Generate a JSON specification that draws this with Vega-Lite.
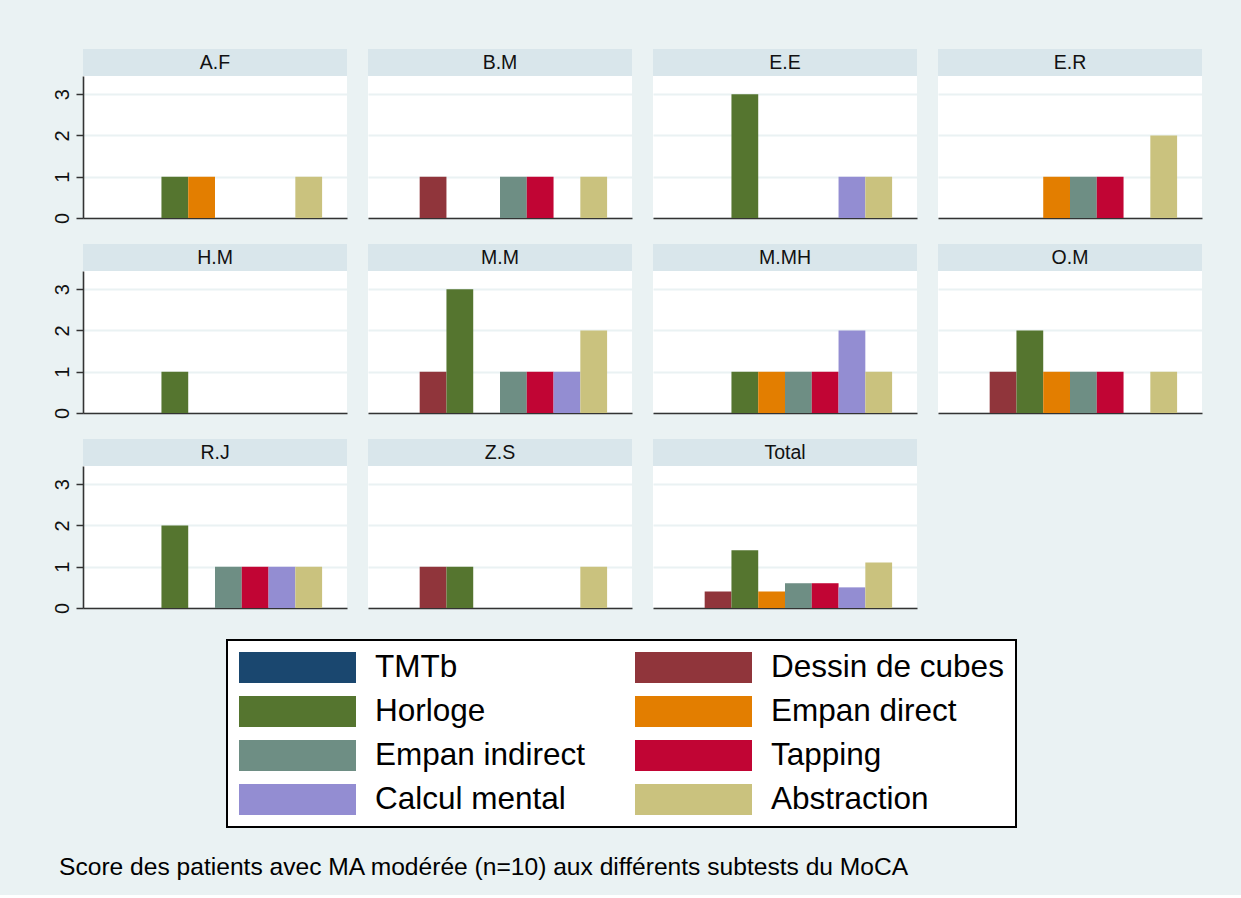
{
  "$schema": "https://vega.github.io/schema/vega-lite/v6.json",
  "background": "#EAF2F3",
  "padding": {"left": 52, "top": 49, "right": 39, "bottom": 15},
  "title": {"text": "Score des patients avec MA modérée (n=10) aux différents subtests du MoCA", "orient": "bottom", "anchor": "start", "font": "Liberation Sans", "fontSize": 24.6, "fontWeight": "normal", "color": "#000000", "offset": 28, "dx": 7},
  "datasets": {
    "scores": [
      {"patient": "A.F", "subtest": "Horloge", "score": 1},
      {"patient": "A.F", "subtest": "Empan direct", "score": 1},
      {"patient": "A.F", "subtest": "Abstraction", "score": 1},
      {"patient": "B.M", "subtest": "Dessin de cubes", "score": 1},
      {"patient": "B.M", "subtest": "Empan indirect", "score": 1},
      {"patient": "B.M", "subtest": "Tapping", "score": 1},
      {"patient": "B.M", "subtest": "Abstraction", "score": 1},
      {"patient": "E.E", "subtest": "Horloge", "score": 3},
      {"patient": "E.E", "subtest": "Calcul mental", "score": 1},
      {"patient": "E.E", "subtest": "Abstraction", "score": 1},
      {"patient": "E.R", "subtest": "Empan direct", "score": 1},
      {"patient": "E.R", "subtest": "Empan indirect", "score": 1},
      {"patient": "E.R", "subtest": "Tapping", "score": 1},
      {"patient": "E.R", "subtest": "Abstraction", "score": 2},
      {"patient": "H.M", "subtest": "Horloge", "score": 1},
      {"patient": "M.M", "subtest": "Dessin de cubes", "score": 1},
      {"patient": "M.M", "subtest": "Horloge", "score": 3},
      {"patient": "M.M", "subtest": "Empan indirect", "score": 1},
      {"patient": "M.M", "subtest": "Tapping", "score": 1},
      {"patient": "M.M", "subtest": "Calcul mental", "score": 1},
      {"patient": "M.M", "subtest": "Abstraction", "score": 2},
      {"patient": "M.MH", "subtest": "Horloge", "score": 1},
      {"patient": "M.MH", "subtest": "Empan direct", "score": 1},
      {"patient": "M.MH", "subtest": "Empan indirect", "score": 1},
      {"patient": "M.MH", "subtest": "Tapping", "score": 1},
      {"patient": "M.MH", "subtest": "Calcul mental", "score": 2},
      {"patient": "M.MH", "subtest": "Abstraction", "score": 1},
      {"patient": "O.M", "subtest": "Dessin de cubes", "score": 1},
      {"patient": "O.M", "subtest": "Horloge", "score": 2},
      {"patient": "O.M", "subtest": "Empan direct", "score": 1},
      {"patient": "O.M", "subtest": "Empan indirect", "score": 1},
      {"patient": "O.M", "subtest": "Tapping", "score": 1},
      {"patient": "O.M", "subtest": "Abstraction", "score": 1},
      {"patient": "R.J", "subtest": "Horloge", "score": 2},
      {"patient": "R.J", "subtest": "Empan indirect", "score": 1},
      {"patient": "R.J", "subtest": "Tapping", "score": 1},
      {"patient": "R.J", "subtest": "Calcul mental", "score": 1},
      {"patient": "R.J", "subtest": "Abstraction", "score": 1},
      {"patient": "Z.S", "subtest": "Dessin de cubes", "score": 1},
      {"patient": "Z.S", "subtest": "Horloge", "score": 1},
      {"patient": "Z.S", "subtest": "Abstraction", "score": 1},
      {"patient": "Total", "subtest": "Dessin de cubes", "score": 0.4},
      {"patient": "Total", "subtest": "Horloge", "score": 1.4},
      {"patient": "Total", "subtest": "Empan direct", "score": 0.4},
      {"patient": "Total", "subtest": "Empan indirect", "score": 0.6},
      {"patient": "Total", "subtest": "Tapping", "score": 0.6},
      {"patient": "Total", "subtest": "Calcul mental", "score": 0.5},
      {"patient": "Total", "subtest": "Abstraction", "score": 1.1}
    ]
  },
  "columns": 4,
  "spacing": {"row": 20, "column": 21},
  "align": "each",
  "concat": [
    {"bounds": "flush", "spacing": 0, "vconcat": [
      {"data": {"values": [{"patient": "A.F"}]}, "width": 264, "height": 27, "view": {"fill": "#D9E6EB", "stroke": null}, "mark": {"type": "text", "fontSize": 19.5, "font": "Liberation Sans", "color": "#111111"}, "encoding": {"text": {"field": "patient", "type": "nominal"}}},
      {"data": {"name": "scores"}, "transform": [{"filter": "datum.patient === 'A.F'"}], "width": 264, "height": 142, "mark": {"type": "bar"},
       "encoding": {
         "x": {"field": "subtest", "type": "nominal", "scale": {"domain": ["TMTb", "Dessin de cubes", "Horloge", "Empan direct", "Empan indirect", "Tapping", "Calcul mental", "Abstraction"], "paddingInner": 0, "paddingOuter": 0.93}, "axis": {"title": null}},
         "y": {"field": "score", "type": "quantitative", "scale": {"domain": [0, 3.44], "nice": false}, "axis": {"title": null, "values": [0, 1, 2, 3]}},
         "color": {"field": "subtest", "type": "nominal", "scale": {"domain": ["TMTb", "Dessin de cubes", "Horloge", "Empan direct", "Empan indirect", "Tapping", "Calcul mental", "Abstraction"], "range": ["#1A476F", "#90353B", "#55752F", "#E37E00", "#6E8E84", "#C10534", "#938DD2", "#CAC27E"]},
           "legend": {"title": null, "orient": "none", "legendX": 144, "legendY": 591, "columns": 2, "direction": "horizontal"}}
       }}
    ]},
    {"bounds": "flush", "spacing": 0, "vconcat": [
      {"data": {"values": [{"patient": "B.M"}]}, "width": 264, "height": 27, "view": {"fill": "#D9E6EB", "stroke": null}, "mark": {"type": "text", "fontSize": 19.5, "font": "Liberation Sans", "color": "#111111"}, "encoding": {"text": {"field": "patient", "type": "nominal"}}},
      {"data": {"name": "scores"}, "transform": [{"filter": "datum.patient === 'B.M'"}], "width": 264, "height": 142, "mark": {"type": "bar"},
       "encoding": {
         "x": {"field": "subtest", "type": "nominal", "scale": {"domain": ["TMTb", "Dessin de cubes", "Horloge", "Empan direct", "Empan indirect", "Tapping", "Calcul mental", "Abstraction"], "paddingInner": 0, "paddingOuter": 0.93}, "axis": {"title": null}},
         "y": {"field": "score", "type": "quantitative", "scale": {"domain": [0, 3.44], "nice": false}, "axis": {"title": null, "values": [0, 1, 2, 3], "labels": false, "ticks": false, "domain": false}},
         "color": {"field": "subtest", "type": "nominal"}
       }}
    ]},
    {"bounds": "flush", "spacing": 0, "vconcat": [
      {"data": {"values": [{"patient": "E.E"}]}, "width": 264, "height": 27, "view": {"fill": "#D9E6EB", "stroke": null}, "mark": {"type": "text", "fontSize": 19.5, "font": "Liberation Sans", "color": "#111111"}, "encoding": {"text": {"field": "patient", "type": "nominal"}}},
      {"data": {"name": "scores"}, "transform": [{"filter": "datum.patient === 'E.E'"}], "width": 264, "height": 142, "mark": {"type": "bar"},
       "encoding": {
         "x": {"field": "subtest", "type": "nominal", "scale": {"domain": ["TMTb", "Dessin de cubes", "Horloge", "Empan direct", "Empan indirect", "Tapping", "Calcul mental", "Abstraction"], "paddingInner": 0, "paddingOuter": 0.93}, "axis": {"title": null}},
         "y": {"field": "score", "type": "quantitative", "scale": {"domain": [0, 3.44], "nice": false}, "axis": {"title": null, "values": [0, 1, 2, 3], "labels": false, "ticks": false, "domain": false}},
         "color": {"field": "subtest", "type": "nominal"}
       }}
    ]},
    {"bounds": "flush", "spacing": 0, "vconcat": [
      {"data": {"values": [{"patient": "E.R"}]}, "width": 264, "height": 27, "view": {"fill": "#D9E6EB", "stroke": null}, "mark": {"type": "text", "fontSize": 19.5, "font": "Liberation Sans", "color": "#111111"}, "encoding": {"text": {"field": "patient", "type": "nominal"}}},
      {"data": {"name": "scores"}, "transform": [{"filter": "datum.patient === 'E.R'"}], "width": 264, "height": 142, "mark": {"type": "bar"},
       "encoding": {
         "x": {"field": "subtest", "type": "nominal", "scale": {"domain": ["TMTb", "Dessin de cubes", "Horloge", "Empan direct", "Empan indirect", "Tapping", "Calcul mental", "Abstraction"], "paddingInner": 0, "paddingOuter": 0.93}, "axis": {"title": null}},
         "y": {"field": "score", "type": "quantitative", "scale": {"domain": [0, 3.44], "nice": false}, "axis": {"title": null, "values": [0, 1, 2, 3], "labels": false, "ticks": false, "domain": false}},
         "color": {"field": "subtest", "type": "nominal"}
       }}
    ]},
    {"bounds": "flush", "spacing": 0, "vconcat": [
      {"data": {"values": [{"patient": "H.M"}]}, "width": 264, "height": 27, "view": {"fill": "#D9E6EB", "stroke": null}, "mark": {"type": "text", "fontSize": 19.5, "font": "Liberation Sans", "color": "#111111"}, "encoding": {"text": {"field": "patient", "type": "nominal"}}},
      {"data": {"name": "scores"}, "transform": [{"filter": "datum.patient === 'H.M'"}], "width": 264, "height": 142, "mark": {"type": "bar"},
       "encoding": {
         "x": {"field": "subtest", "type": "nominal", "scale": {"domain": ["TMTb", "Dessin de cubes", "Horloge", "Empan direct", "Empan indirect", "Tapping", "Calcul mental", "Abstraction"], "paddingInner": 0, "paddingOuter": 0.93}, "axis": {"title": null}},
         "y": {"field": "score", "type": "quantitative", "scale": {"domain": [0, 3.44], "nice": false}, "axis": {"title": null, "values": [0, 1, 2, 3]}},
         "color": {"field": "subtest", "type": "nominal"}
       }}
    ]},
    {"bounds": "flush", "spacing": 0, "vconcat": [
      {"data": {"values": [{"patient": "M.M"}]}, "width": 264, "height": 27, "view": {"fill": "#D9E6EB", "stroke": null}, "mark": {"type": "text", "fontSize": 19.5, "font": "Liberation Sans", "color": "#111111"}, "encoding": {"text": {"field": "patient", "type": "nominal"}}},
      {"data": {"name": "scores"}, "transform": [{"filter": "datum.patient === 'M.M'"}], "width": 264, "height": 142, "mark": {"type": "bar"},
       "encoding": {
         "x": {"field": "subtest", "type": "nominal", "scale": {"domain": ["TMTb", "Dessin de cubes", "Horloge", "Empan direct", "Empan indirect", "Tapping", "Calcul mental", "Abstraction"], "paddingInner": 0, "paddingOuter": 0.93}, "axis": {"title": null}},
         "y": {"field": "score", "type": "quantitative", "scale": {"domain": [0, 3.44], "nice": false}, "axis": {"title": null, "values": [0, 1, 2, 3], "labels": false, "ticks": false, "domain": false}},
         "color": {"field": "subtest", "type": "nominal"}
       }}
    ]},
    {"bounds": "flush", "spacing": 0, "vconcat": [
      {"data": {"values": [{"patient": "M.MH"}]}, "width": 264, "height": 27, "view": {"fill": "#D9E6EB", "stroke": null}, "mark": {"type": "text", "fontSize": 19.5, "font": "Liberation Sans", "color": "#111111"}, "encoding": {"text": {"field": "patient", "type": "nominal"}}},
      {"data": {"name": "scores"}, "transform": [{"filter": "datum.patient === 'M.MH'"}], "width": 264, "height": 142, "mark": {"type": "bar"},
       "encoding": {
         "x": {"field": "subtest", "type": "nominal", "scale": {"domain": ["TMTb", "Dessin de cubes", "Horloge", "Empan direct", "Empan indirect", "Tapping", "Calcul mental", "Abstraction"], "paddingInner": 0, "paddingOuter": 0.93}, "axis": {"title": null}},
         "y": {"field": "score", "type": "quantitative", "scale": {"domain": [0, 3.44], "nice": false}, "axis": {"title": null, "values": [0, 1, 2, 3], "labels": false, "ticks": false, "domain": false}},
         "color": {"field": "subtest", "type": "nominal"}
       }}
    ]},
    {"bounds": "flush", "spacing": 0, "vconcat": [
      {"data": {"values": [{"patient": "O.M"}]}, "width": 264, "height": 27, "view": {"fill": "#D9E6EB", "stroke": null}, "mark": {"type": "text", "fontSize": 19.5, "font": "Liberation Sans", "color": "#111111"}, "encoding": {"text": {"field": "patient", "type": "nominal"}}},
      {"data": {"name": "scores"}, "transform": [{"filter": "datum.patient === 'O.M'"}], "width": 264, "height": 142, "mark": {"type": "bar"},
       "encoding": {
         "x": {"field": "subtest", "type": "nominal", "scale": {"domain": ["TMTb", "Dessin de cubes", "Horloge", "Empan direct", "Empan indirect", "Tapping", "Calcul mental", "Abstraction"], "paddingInner": 0, "paddingOuter": 0.93}, "axis": {"title": null}},
         "y": {"field": "score", "type": "quantitative", "scale": {"domain": [0, 3.44], "nice": false}, "axis": {"title": null, "values": [0, 1, 2, 3], "labels": false, "ticks": false, "domain": false}},
         "color": {"field": "subtest", "type": "nominal"}
       }}
    ]},
    {"bounds": "flush", "spacing": 0, "vconcat": [
      {"data": {"values": [{"patient": "R.J"}]}, "width": 264, "height": 27, "view": {"fill": "#D9E6EB", "stroke": null}, "mark": {"type": "text", "fontSize": 19.5, "font": "Liberation Sans", "color": "#111111"}, "encoding": {"text": {"field": "patient", "type": "nominal"}}},
      {"data": {"name": "scores"}, "transform": [{"filter": "datum.patient === 'R.J'"}], "width": 264, "height": 142, "mark": {"type": "bar"},
       "encoding": {
         "x": {"field": "subtest", "type": "nominal", "scale": {"domain": ["TMTb", "Dessin de cubes", "Horloge", "Empan direct", "Empan indirect", "Tapping", "Calcul mental", "Abstraction"], "paddingInner": 0, "paddingOuter": 0.93}, "axis": {"title": null}},
         "y": {"field": "score", "type": "quantitative", "scale": {"domain": [0, 3.44], "nice": false}, "axis": {"title": null, "values": [0, 1, 2, 3]}},
         "color": {"field": "subtest", "type": "nominal"}
       }}
    ]},
    {"bounds": "flush", "spacing": 0, "vconcat": [
      {"data": {"values": [{"patient": "Z.S"}]}, "width": 264, "height": 27, "view": {"fill": "#D9E6EB", "stroke": null}, "mark": {"type": "text", "fontSize": 19.5, "font": "Liberation Sans", "color": "#111111"}, "encoding": {"text": {"field": "patient", "type": "nominal"}}},
      {"data": {"name": "scores"}, "transform": [{"filter": "datum.patient === 'Z.S'"}], "width": 264, "height": 142, "mark": {"type": "bar"},
       "encoding": {
         "x": {"field": "subtest", "type": "nominal", "scale": {"domain": ["TMTb", "Dessin de cubes", "Horloge", "Empan direct", "Empan indirect", "Tapping", "Calcul mental", "Abstraction"], "paddingInner": 0, "paddingOuter": 0.93}, "axis": {"title": null}},
         "y": {"field": "score", "type": "quantitative", "scale": {"domain": [0, 3.44], "nice": false}, "axis": {"title": null, "values": [0, 1, 2, 3], "labels": false, "ticks": false, "domain": false}},
         "color": {"field": "subtest", "type": "nominal"}
       }}
    ]},
    {"bounds": "flush", "spacing": 0, "vconcat": [
      {"data": {"values": [{"patient": "Total"}]}, "width": 264, "height": 27, "view": {"fill": "#D9E6EB", "stroke": null}, "mark": {"type": "text", "fontSize": 19.5, "font": "Liberation Sans", "color": "#111111"}, "encoding": {"text": {"field": "patient", "type": "nominal"}}},
      {"data": {"name": "scores"}, "transform": [{"filter": "datum.patient === 'Total'"}], "width": 264, "height": 142, "mark": {"type": "bar"},
       "encoding": {
         "x": {"field": "subtest", "type": "nominal", "scale": {"domain": ["TMTb", "Dessin de cubes", "Horloge", "Empan direct", "Empan indirect", "Tapping", "Calcul mental", "Abstraction"], "paddingInner": 0, "paddingOuter": 0.93}, "axis": {"title": null}},
         "y": {"field": "score", "type": "quantitative", "scale": {"domain": [0, 3.44], "nice": false}, "axis": {"title": null, "values": [0, 1, 2, 3], "labels": false, "ticks": false, "domain": false}},
         "color": {"field": "subtest", "type": "nominal"}
       }}
    ]}
  ],
  "config": {
    "font": "Liberation Sans",
    "view": {"stroke": null, "fill": "#FFFFFF"},
    "axisX": {"labels": false, "ticks": false, "grid": false, "domain": true, "domainColor": "#333333", "domainWidth": 1.6},
    "axisY": {"grid": true, "gridColor": "#EAF2F3", "gridWidth": 2, "labelAngle": -90, "labelFontSize": 20, "labelFont": "Liberation Sans", "labelColor": "#111111", "labelPadding": 4, "tickSize": 7, "tickColor": "#333333", "tickWidth": 1.5, "domainColor": "#333333", "domainWidth": 1.6},
    "legend": {"symbolType": "M-1,-0.265H1V0.265H-1Z", "symbolSize": 13689, "symbolStrokeWidth": 0, "symbolOpacity": 1, "clipHeight": 31, "rowPadding": 12, "columnPadding": 49, "labelOffset": 19, "labelFontSize": 31.5, "labelFont": "Liberation Sans", "labelColor": "#000000", "labelLimit": 400, "padding": 12, "strokeColor": "#000000", "strokeWidth": 2, "fillColor": "#FFFFFF", "symbolOffset": 0}
  }
}
